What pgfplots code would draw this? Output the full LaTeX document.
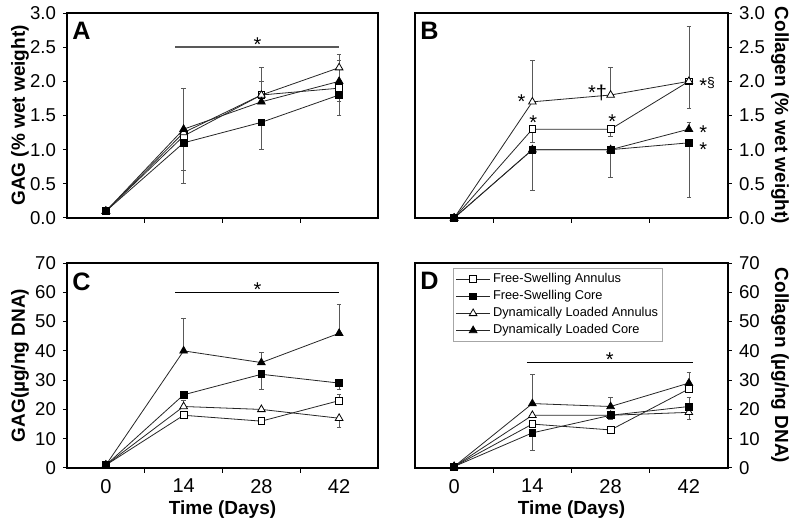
\documentclass[border=0pt]{standalone}
\usepackage{fontspec}
\setmainfont{Liberation Sans}[BoldFont={Liberation Sans Bold}]
\usepackage{pgfplots}
\pgfplotsset{compat=1.18}

\newcommand\sg[1]{\smash{\raisebox{-0.58em}{#1}}}
\tikzset{
  plab/.style={font=\bfseries\fontsize{12.6}{12.6}\selectfont, anchor=north west, inner sep=0pt},
  sig/.style={font=\fontsize{10}{10}\selectfont, inner sep=0pt},
  lab/.style={font=\bfseries\fontsize{9.5}{9.5}\selectfont},
}
\pgfplotsset{
  panel/.style={
    scale only axis, width=155.5pt, height=102.5pt,
    xmin=-0.5, xmax=3.5,
    xtick={0,1,2,3},
    major x tick style={draw=none},
    minor xtick={0.5,1.5,2.5},
    xtick pos=bottom, tick align=outside,
    major tick length=2pt, minor tick length=2.5pt,
    tick style={black, line width=0.5pt},
    axis line style={line width=0.7pt},
    /pgf/number format/assume math mode=true,
    xticklabel style={font=\fontsize{10}{10}\selectfont},
    yticklabel style={font=\fontsize{9.3}{9.3}\selectfont},
    clip=false,
  },
  left/.style={ytick pos=left,
    every axis y label/.style={at={(axis description cs:-0.151,0.5)}, rotate=90, anchor=center, lab}},
  right/.style={ytick pos=right, width=156.5pt,
    every axis y label/.style={at={(axis description cs:1.166,0.5)}, rotate=-90, anchor=center, lab}},
  bottom/.style={xticklabels={0,14,28,42}, xlabel={Time (Days)},
    every axis x label/.style={at={(axis description cs:0.5,-0.205)}, anchor=center, lab}},
  pct/.style={ymin=0, ymax=3, ytick={0,0.5,...,3},
    yticklabel style={/pgf/number format/.cd, fixed, fixed zerofill, precision=1}},
  dna/.style={ymin=0, ymax=70, ytick={0,10,...,70}},
  ln/.style={black!85, line width=0.4pt,
    error bars/y dir=both, error bars/y explicit,
    error bars/error bar style={gray!70!black, line width=0.35pt},
    error bars/error mark options={rotate=90, mark size=1.1pt, gray!70!black}},
  fsa/.style={ln, mark=square*, mark size=1.7pt, mark options={fill=white, draw=black, solid}},
  fsc/.style={ln, mark=square*, mark size=1.7pt, mark options={fill=black, draw=black, solid}},
  dla/.style={ln, mark=triangle*, mark size=2.2pt, mark options={fill=white, draw=black, solid}},
  dlc/.style={ln, mark=triangle*, mark size=2.2pt, mark options={fill=black, draw=black, solid}},
}

\begin{document}
\begin{tikzpicture}
\useasboundingbox (0,0) rectangle (400pt,265.5pt);

% ---- A: GAG % wet weight
\begin{axis}[panel, pct, left, at={(33.5pt,156.5pt)}, anchor=south west,
  xticklabels={}, ylabel={GAG (\% wet weight)}]
\addplot[fsa] coordinates {(0,0.1) (1,1.2) += (0,0) -= (0,0.5) (2,1.8) += (0,0.2) -= (0,0) (3,1.9) += (0,0) -= (0,0.2)};
\addplot[dla] coordinates {(0,0.1) (1,1.25) (2,1.8) += (0,0.4) -= (0,0) (3,2.2) += (0,0.2) -= (0,0)};
\addplot[dlc] coordinates {(0,0.1) (1,1.3) += (0,0.6) -= (0,0) (2,1.7) (3,2.0) += (0,0.3) -= (0,0)};
\addplot[fsc] coordinates {(0,0.1) (1,1.1) += (0,0) -= (0,0.6) (2,1.4) += (0,0) -= (0,0.4) (3,1.8) += (0,0) -= (0,0.3)};
\draw[gray!70!black, line width=0.7pt] (axis cs:0.89,2.5) -- (axis cs:3,2.5);
\node[sig] at (axis cs:1.95,2.61) {\sg{*}};
\node[plab] at ([xshift=2.5pt,yshift=-4.5pt]rel axis cs:0,1) {A};
\end{axis}

% ---- B: Collagen % wet weight
\begin{axis}[panel, pct, right, at={(207.5pt,156.5pt)}, anchor=south west,
  xticklabels={}, ylabel={Collagen (\% wet weight)}]
\addplot[fsa] coordinates {(0,0) (1,1.3) += (0,0) -= (0,0.2) (2,1.3) += (0,0) -= (0,0.1) (3,2.0) += (0,0) -= (0,0.4)};
\addplot[dla] coordinates {(0,0) (1,1.7) += (0,0.6) -= (0,0) (2,1.8) += (0,0.4) -= (0,0) (3,2.0) += (0,0.8) -= (0,0)};
\addplot[dlc] coordinates {(0,0) (1,1.0) (2,1.0) (3,1.3) += (0,0.1) -= (0,0)};
\addplot[fsc] coordinates {(0,0) (1,1.0) += (0,0) -= (0,0.6) (2,1.0) += (0,0) -= (0,0.4) (3,1.1) += (0,0) -= (0,0.8)};
\node[sig] at (axis cs:0.86,1.77) {\sg{*}};
\node[sig] at (axis cs:1.01,1.47) {\sg{*}};
\node[sig, anchor=east] at (axis cs:1.96,1.9) {\sg{*†}};
\node[sig] at (axis cs:2.02,1.48) {\sg{*}};
\node[sig, anchor=west] at (axis cs:3.13,2.0) {\sg{*\raisebox{0.25em}{\fontsize{7}{7}\selectfont§}}};
\node[sig, anchor=west] at (axis cs:3.13,1.32) {\sg{*}};
\node[sig, anchor=west] at (axis cs:3.13,1.07) {\sg{*}};
\node[plab] at ([xshift=2.5pt,yshift=-4.5pt]rel axis cs:0,1) {B};
\end{axis}

% ---- C: GAG per DNA
\begin{axis}[panel, dna, left, bottom, at={(33.5pt,31.5pt)}, anchor=south west,
  ylabel={GAG(µg/ng DNA)}]
\addplot[fsa] coordinates {(0,1) (1,18) (2,16) (3,23) += (0,2) -= (0,0)};
\addplot[dla] coordinates {(0,1) (1,21) += (0,2) -= (0,0) (2,20) (3,17) += (0,0) -= (0,3)};
\addplot[dlc] coordinates {(0,1) (1,40) += (0,11) -= (0,0) (2,36) += (0,3.5) -= (0,0) (3,46) += (0,10) -= (0,0)};
\addplot[fsc] coordinates {(0,1) (1,25) (2,32) += (0,0) -= (0,5) (3,29) += (0,0) -= (0,2)};
\draw[black, line width=0.7pt] (axis cs:0.89,60) -- (axis cs:3,60);
\node[sig] at (axis cs:1.95,62.5) {\sg{*}};
\node[plab] at ([xshift=2.5pt,yshift=-4.5pt]rel axis cs:0,1) {C};
\end{axis}

% ---- D: Collagen per DNA
\begin{axis}[panel, dna, right, bottom, at={(207.5pt,31.5pt)}, anchor=south west,
  ylabel={Collagen (µg/ng DNA)},
  legend style={at={(axis description cs:0.121,0.976)}, anchor=north west,
    draw=gray!70, line width=0.4pt, font=\fontsize{6.4}{7}\selectfont,
    row sep=0pt, inner sep=1.2pt, nodes={inner sep=1.2pt}},
  legend cell align=left]
\addlegendimage{fsa}\addlegendentry{Free-Swelling Annulus}
\addlegendimage{fsc}\addlegendentry{Free-Swelling Core}
\addlegendimage{dla}\addlegendentry{Dynamically Loaded Annulus}
\addlegendimage{dlc}\addlegendentry{Dynamically Loaded Core}
\addplot[fsa, forget plot] coordinates {(0,0.5) (1,15) (2,13) (3,27)};
\addplot[dla, forget plot] coordinates {(0,0.5) (1,18) (2,18) += (0,0) -= (0,1.5) (3,19) += (0,0) -= (0,2.5)};
\addplot[dlc, forget plot] coordinates {(0,0.5) (1,22) += (0,10) -= (0,0) (2,21) += (0,3) -= (0,0) (3,29) += (0,3.5) -= (0,0)};
\addplot[fsc, forget plot] coordinates {(0,0.5) (1,12) += (0,0) -= (0,6) (2,18) (3,21) += (0,3) -= (0,0)};
\draw[black, line width=0.7pt] (axis cs:0.93,36) -- (axis cs:3.05,36);
\node[sig] at (axis cs:1.99,38.5) {\sg{*}};
\node[plab] at ([xshift=2.5pt,yshift=-4.5pt]rel axis cs:0,1) {D};
\end{axis}
\end{tikzpicture}
\end{document}
